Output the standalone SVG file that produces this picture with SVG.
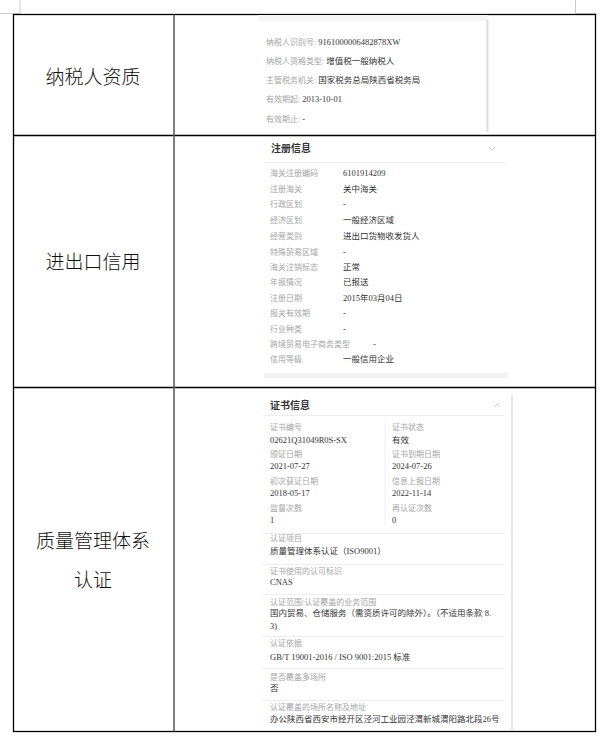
<svg xmlns="http://www.w3.org/2000/svg" width="611" height="741" viewBox="0 0 611 741">
<style>
.cell{font-family:"Noto Sans CJK SC",sans-serif;font-size:19px;fill:#111;text-anchor:middle;font-weight:300}
.l{font-family:"Liberation Serif","Noto Sans CJK SC",serif;font-size:8px;fill:#a5a5a5}
.v{font-family:"Liberation Serif","Noto Sans CJK SC",serif;font-size:8.5px;fill:#333}
.t{font-family:"Noto Sans CJK SC",sans-serif;font-size:10px;fill:#333;font-weight:bold}
.tb{stroke:#000;stroke-width:1.3;fill:none}
.sep{stroke:#eee;stroke-width:1}
</style>
<rect width="611" height="741" fill="#fff"/>
<path d="M0 13.5H20V0M575.5 0V13.5H597" stroke="#ccc" fill="none"/>
<g id="table">
<rect class="tb" x="13.5" y="14.5" width="582" height="717"/>
<line class="tb" x1="13.5" y1="135.5" x2="595.5" y2="135.5"/>
<line class="tb" x1="13.5" y1="387.5" x2="595.5" y2="387.5"/>
<line x1="174" y1="14.5" x2="174" y2="731.5" stroke="#555" stroke-width="1.5"/>
</g>
<g id="labels">
<text class="cell" x="93" y="84">纳税人资质</text>
<text class="cell" x="93" y="269">进出口信用</text>
<text class="cell" x="93" y="548">质量管理体系</text>
<text class="cell" x="93" y="587">认证</text>
</g>
<g id="shot1">
<rect x="258" y="15" width="230" height="6" fill="#f5f5f5"/>
<line x1="487.5" y1="20" x2="487.5" y2="132" stroke="#ddd" stroke-width="2"/>
<text class="l" x="266" y="45">纳税人识别号: <tspan class="v">9161000006482878XW</tspan></text>
<text class="l" x="266" y="64">纳税人资格类型: <tspan class="v">增值税一般纳税人</tspan></text>
<text class="l" x="266" y="83">主管税务机关: <tspan class="v">国家税务总局陕西省税务局</tspan></text>
<text class="l" x="266" y="102">有效期起: <tspan class="v">2013-10-01</tspan></text>
<text class="l" x="266" y="122">有效期止: <tspan class="v">-</tspan></text>
</g>
<g id="shot2">
<text class="t" x="271" y="152">注册信息</text>
<path d="M489 147l3 3 3-3" stroke="#ccc" fill="none"/>
<line class="sep" x1="264" y1="162.5" x2="506" y2="162.5"/>
<g class="l">
<text x="270" y="176">海关注册编码</text><text x="270" y="192">注册海关</text><text x="270" y="207">行政区划</text>
<text x="270" y="223">经济区划</text><text x="270" y="239">经营类别</text><text x="270" y="255">特殊贸易区域</text>
<text x="270" y="270">海关注销标志</text><text x="270" y="285">年报情况</text><text x="270" y="301">注册日期</text>
<text x="270" y="316">报关有效期</text><text x="270" y="332">行业种类</text><text x="270" y="347">跨境贸易电子商务类型</text>
<text x="270" y="362">信用等级</text>
</g>
<g class="v">
<text x="343" y="176">6101914209</text><text x="343" y="192">关中海关</text><text x="343" y="207">-</text>
<text x="343" y="223">一般经济区域</text><text x="343" y="239">进出口货物收发货人</text><text x="343" y="255">-</text>
<text x="343" y="270">正常</text><text x="343" y="285">已报送</text><text x="343" y="301">2015年03月04日</text>
<text x="343" y="316">-</text><text x="343" y="332">-</text><text x="373" y="347">-</text>
<text x="343" y="362">一般信用企业</text>
</g>
<rect x="264" y="373" width="244" height="5" fill="#f2f2f2"/>
</g>
<g id="shot3">
<text class="t" x="270" y="409">证书信息</text>
<path d="M494 407l3-3 3 3" stroke="#ccc" fill="none"/>
<line x1="512" y1="395" x2="512" y2="731" stroke="#ddd" stroke-width="1.5"/>
<line class="sep" x1="263" y1="415.5" x2="505" y2="415.5"/>
<line class="sep" x1="385" y1="422" x2="385" y2="526"/>
<g class="l">
<text x="270" y="430">证书编号</text><text x="392" y="430">证书状态</text>
<text x="270" y="457">颁证日期</text><text x="392" y="457">证书到期日期</text>
<text x="270" y="484">初次获证日期</text><text x="392" y="484">信息上报日期</text>
<text x="270" y="511">监督次数</text><text x="392" y="511">再认证次数</text>
<text x="270" y="541">认证项目</text><text x="270" y="574">证书使用的认可标识</text>
<text x="270" y="605">认证范围/认证覆盖的业务范围</text><text x="270" y="646">认证依据</text>
<text x="270" y="680">是否覆盖多场所</text><text x="270" y="710">认证覆盖的场所名称及地址</text>
</g>
<g class="v">
<text x="270" y="443">02621Q31049R0S-SX</text><text x="392" y="443">有效</text>
<text x="270" y="469">2021-07-27</text><text x="392" y="469">2024-07-26</text>
<text x="270" y="496">2018-05-17</text><text x="392" y="496">2022-11-14</text>
<text x="270" y="523">1</text><text x="392" y="523">0</text>
<text x="270" y="554">质量管理体系认证（ISO9001）</text>
<text x="270" y="585">CNAS</text>
<text x="270" y="616">国内贸易、仓储服务（需资质许可的除外）。（不适用条款 8.</text>
<text x="270" y="629">3)</text>
<text x="270" y="660">GB/T 19001-2016 / ISO 9001:2015 标准</text>
<text x="270" y="691">否</text>
<text x="270" y="722">办公陕西省西安市经开区泾河工业园泾渭新城渭阳路北段26号</text>
</g>
<g class="sep">
<line x1="263" y1="533.5" x2="505" y2="533.5"/><line x1="263" y1="564.5" x2="505" y2="564.5"/>
<line x1="263" y1="594.5" x2="505" y2="594.5"/><line x1="263" y1="636.5" x2="505" y2="636.5"/>
<line x1="263" y1="668.5" x2="505" y2="668.5"/><line x1="263" y1="700.5" x2="505" y2="700.5"/>
</g>
</g>
</svg>
